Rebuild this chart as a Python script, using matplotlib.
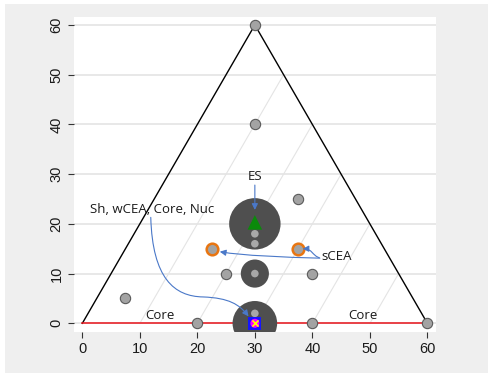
import numpy as np
import matplotlib.pyplot as plt
from matplotlib.patches import Rectangle, FancyArrowPatch
from matplotlib.path import Path

# ternary-style layout drawn on plain x/y axes
tri_x = [0, 30, 60]
tri_y = [0, 60, 0]
grid_start = [10, 20, 30, 40, 50]

# big shaded circles (centre x, centre y, marker size)
blob_x = [30, 30, 30]
blob_y = [20, 10, 0]
blob_s = [1370, 410, 1030]

# ordinary grey points
pt_x = [30, 30, 37.5, 25, 40, 7.5, 20, 40, 60]
pt_y = [60, 40, 25, 10, 10, 5, 0, 0, 0]

# lighter dots sitting inside the circles
inner_x = [30, 30, 30, 30]
inner_y = [18, 16, 10, 2]

# orange-ringed points
sc_x = [22.5, 37.5]
sc_y = [15, 15]

es_x, es_y = 30, 20.3
core_x, core_y = 30, 0

core_labels = ["Core", "Core"]
core_lx = [13.5, 48.8]
core_ly = [1.6, 1.6]

fig = plt.figure(figsize=(4.88, 3.73), dpi=100, facecolor='white')
fig.patches.append(Rectangle((5 / 488, 0), 1, 1 - 4 / 373, transform=fig.transFigure,
                             facecolor='#efefef', edgecolor='none', zorder=-10))
ax = fig.add_axes([74 / 488, 1 - 332 / 373, (436 - 74) / 488, (332 - 17) / 373])
ax.set_facecolor('white')

# horizontal grid
for g in range(0, 70, 10):
    ax.axhline(g, color='#e6e6e6', lw=1.3, zorder=0)

# slanted grid lines parallel to the left edge, stopping at the right edge
for x0 in grid_start:
    x1 = (x0 + 60) / 2
    ax.plot([x0, x1], [0, 2 * (x1 - x0)], color='#e4e4e4', lw=0.8, zorder=0)

# triangle edges
ax.plot(tri_x, tri_y, color='black', lw=1.0, zorder=1)
ax.plot([0, 60], [0, 0], color='#e8141c', lw=1.1, zorder=1)

ax.scatter(blob_x, blob_y, s=blob_s, color='#4f4f4f', edgecolors='none', zorder=2)
ax.scatter(pt_x, pt_y, s=55, color='#a3a3a3', edgecolors='#5a5a5a', linewidths=0.8, zorder=3)
ax.scatter(inner_x, inner_y, s=30, color='#a8a8a8', edgecolors='none', zorder=3)
ax.scatter(sc_x, sc_y, s=70, color='#a3a3a3', edgecolors='#e87511', linewidths=1.8, zorder=3)

ax.scatter([es_x], [es_y], marker='^', s=110, color='#0a8a0a', edgecolors='none', zorder=4)
ax.scatter([core_x], [core_y], marker='s', s=85, color='#1515ff', edgecolors='none', zorder=4)
ax.scatter([core_x], [core_y], marker='o', s=42, color='#ff00ff', edgecolors='none', zorder=5)
ax.scatter([core_x], [core_y], marker='x', s=20, color='#ffff00', linewidths=1.2, zorder=6)

tfont = dict(family='Open Sans', fontsize=9.5, color='#1a1a1a')
arrow_c = '#4a78c8'
head = dict(arrowstyle='-|>', color=arrow_c, lw=0.8, mutation_scale=9,
            shrinkA=0, shrinkB=0, zorder=7)


def curved_arrow(verts):
    # verts: start point followed by cubic bezier triples
    codes = [Path.MOVETO] + [Path.CURVE4] * (len(verts) - 1)
    ax.add_patch(FancyArrowPatch(path=Path(verts, codes), **head))


ax.text(30, 29.6, 'ES', ha='center', va='center', zorder=7, **tfont)
ax.annotate('', xy=(30, 22.8), xytext=(30, 27.8),
            arrowprops=dict(arrowstyle='-|>', color=arrow_c, lw=0.8,
                            mutation_scale=9, shrinkA=0, shrinkB=0), zorder=7)

ax.text(41.6, 13.5, 'sCEA', ha='left', va='center', zorder=7, **tfont)
curved_arrow([(41.3, 13.1), (35, 13.3), (28, 13.6), (23.9, 14.4)])
curved_arrow([(41.2, 13.2), (40.0, 13.6), (40.0, 15.0), (38.3, 15.0)])

ax.text(12.2, 22.8, 'Sh, wCEA, Core, Nuc', ha='center', va='center', zorder=7, **tfont)
curved_arrow([(11.9, 21.3), (12.2, 9.0), (16.0, 5.4), (21.0, 5.3),
              (25.5, 5.1), (27.3, 3.8), (28.9, 1.4)])

for lab, lx, ly in zip(core_labels, core_lx, core_ly):
    ax.text(lx, ly, lab, ha='center', va='center', zorder=7, **tfont)

ax.set_xlim(-1.45, 61.5)
ax.set_ylim(-1.75, 61.6)
ax.set_xticks(range(0, 70, 10))
ax.set_yticks(range(0, 70, 10))
for sp in ax.spines.values():
    sp.set_visible(False)
ax.tick_params(axis='both', length=4.5, width=0.8, color='#333333', labelsize=10.5,
               labelcolor='#1a1a1a', pad=3)
for lab in ax.get_yticklabels():
    lab.set_rotation(90)
    lab.set_va('center')
    lab.set_family('Liberation Sans')
for lab in ax.get_xticklabels():
    lab.set_family('Liberation Sans')

fig.savefig('out.png', dpi=100, facecolor=fig.get_facecolor())
